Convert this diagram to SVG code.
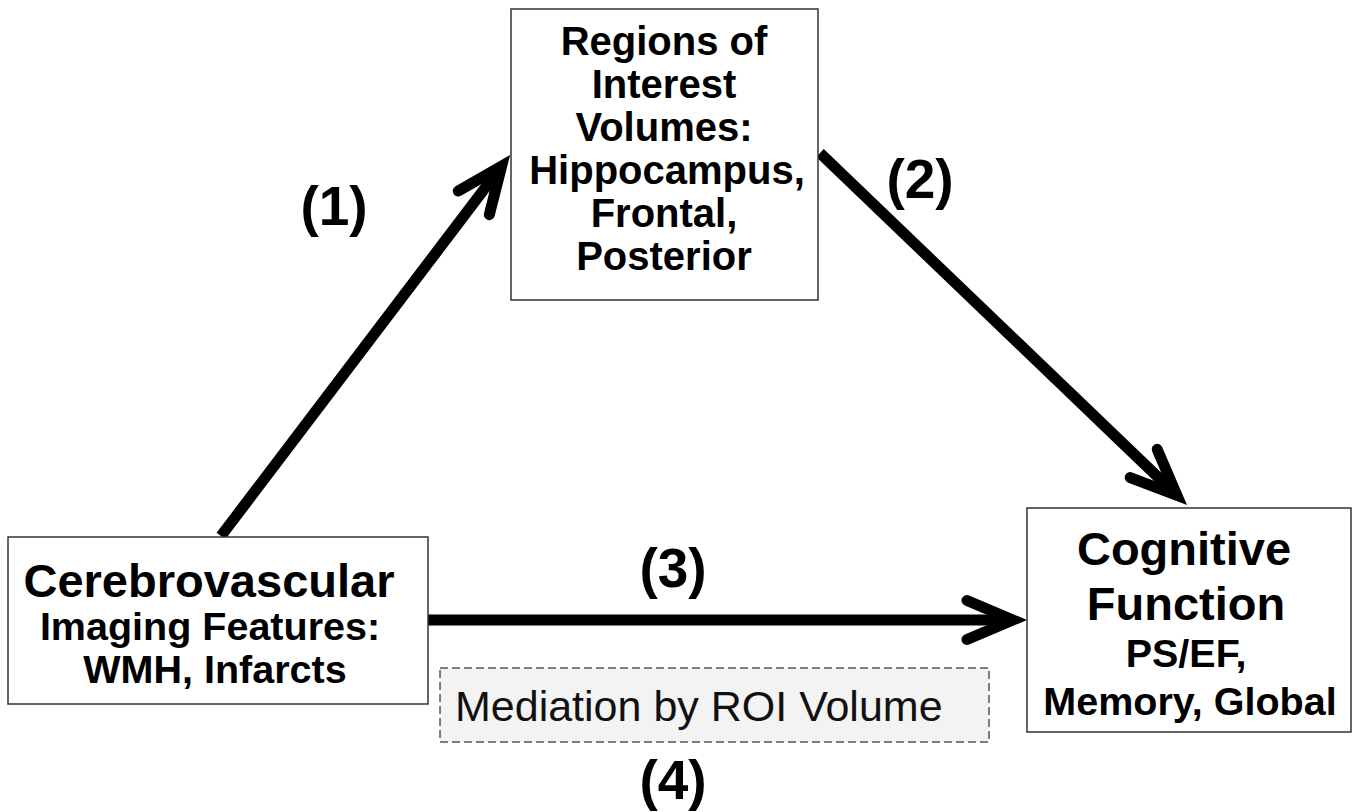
<svg xmlns="http://www.w3.org/2000/svg" width="1357" height="812" viewBox="0 0 1357 812">
<style>
.box{fill:#fff;stroke:#333;stroke-width:1.5}
.med{fill:#f3f3f3;stroke:#555;stroke-width:1.5;stroke-dasharray:8 4}
.t{font-family:"Liberation Sans",Arial,sans-serif;font-weight:bold;fill:#000;text-anchor:middle}
.big{font-size:47px}
.sm{font-size:39.5px}
.roi{font-size:40px}
.lbl{font-size:55px}
.reg{font-family:"Liberation Sans",Arial,sans-serif;font-size:43px;fill:#111}
.conn{fill:none;stroke:#000;stroke-width:11;stroke-linecap:butt}
</style>
<defs>
<marker id="head" markerUnits="userSpaceOnUse" orient="auto" markerWidth="90" markerHeight="90" viewBox="-70 -45 90 90" refX="0" refY="0" overflow="visible">
<path d="M-46,-19.5 L0,0 L-46,19.5" fill="none" stroke="#000" stroke-width="11" stroke-linejoin="miter" stroke-linecap="round"/>
</marker>
</defs>
<rect width="1357" height="812" fill="#fff"/>
<g id="connectors">
<line class="conn" x1="221" y1="536" x2="501.6" y2="166.2" marker-end="url(#head)"/>
<line class="conn" x1="820" y1="153" x2="1176.9" y2="495.3" marker-end="url(#head)"/>
<line class="conn" x1="428" y1="620" x2="1013" y2="620" marker-end="url(#head)"/>
</g>
<g id="node-cerebrovascular">
<rect class="box" x="8" y="537" width="420" height="167"/>
<text class="t big" x="209" y="597">Cerebrovascular</text>
<text class="t sm" x="210" y="640">Imaging Features:</text>
<text class="t sm" x="215" y="683">WMH, Infarcts</text>
</g>
<g id="node-roi">
<rect class="box" x="511" y="9" width="307" height="291"/>
<text class="t roi" x="664" y="55">Regions of</text>
<text class="t roi" x="664" y="98">Interest</text>
<text class="t roi" x="664" y="141">Volumes:</text>
<text class="t roi" x="667" y="184">Hippocampus,</text>
<text class="t roi" x="664" y="227">Frontal,</text>
<text class="t roi" x="664" y="270">Posterior</text>
</g>
<g id="node-cognitive">
<rect class="box" x="1027" y="508" width="324" height="224"/>
<text class="t big" x="1184" y="565">Cognitive</text>
<text class="t big" x="1186" y="620">Function</text>
<text class="t sm" x="1186" y="667">PS/EF,</text>
<text class="t sm" x="1190" y="715">Memory, Global</text>
</g>
<g id="node-mediation">
<rect class="med" x="440" y="668" width="549" height="74"/>
<text class="reg" x="455" y="721">Mediation by ROI Volume</text>
</g>
<g id="labels">
<text class="t lbl" x="334" y="225">(1)</text>
<text class="t lbl" x="920" y="198">(2)</text>
<text class="t lbl" x="673" y="587">(3)</text>
<text class="t lbl" x="673" y="799">(4)</text>
</g>
</svg>
